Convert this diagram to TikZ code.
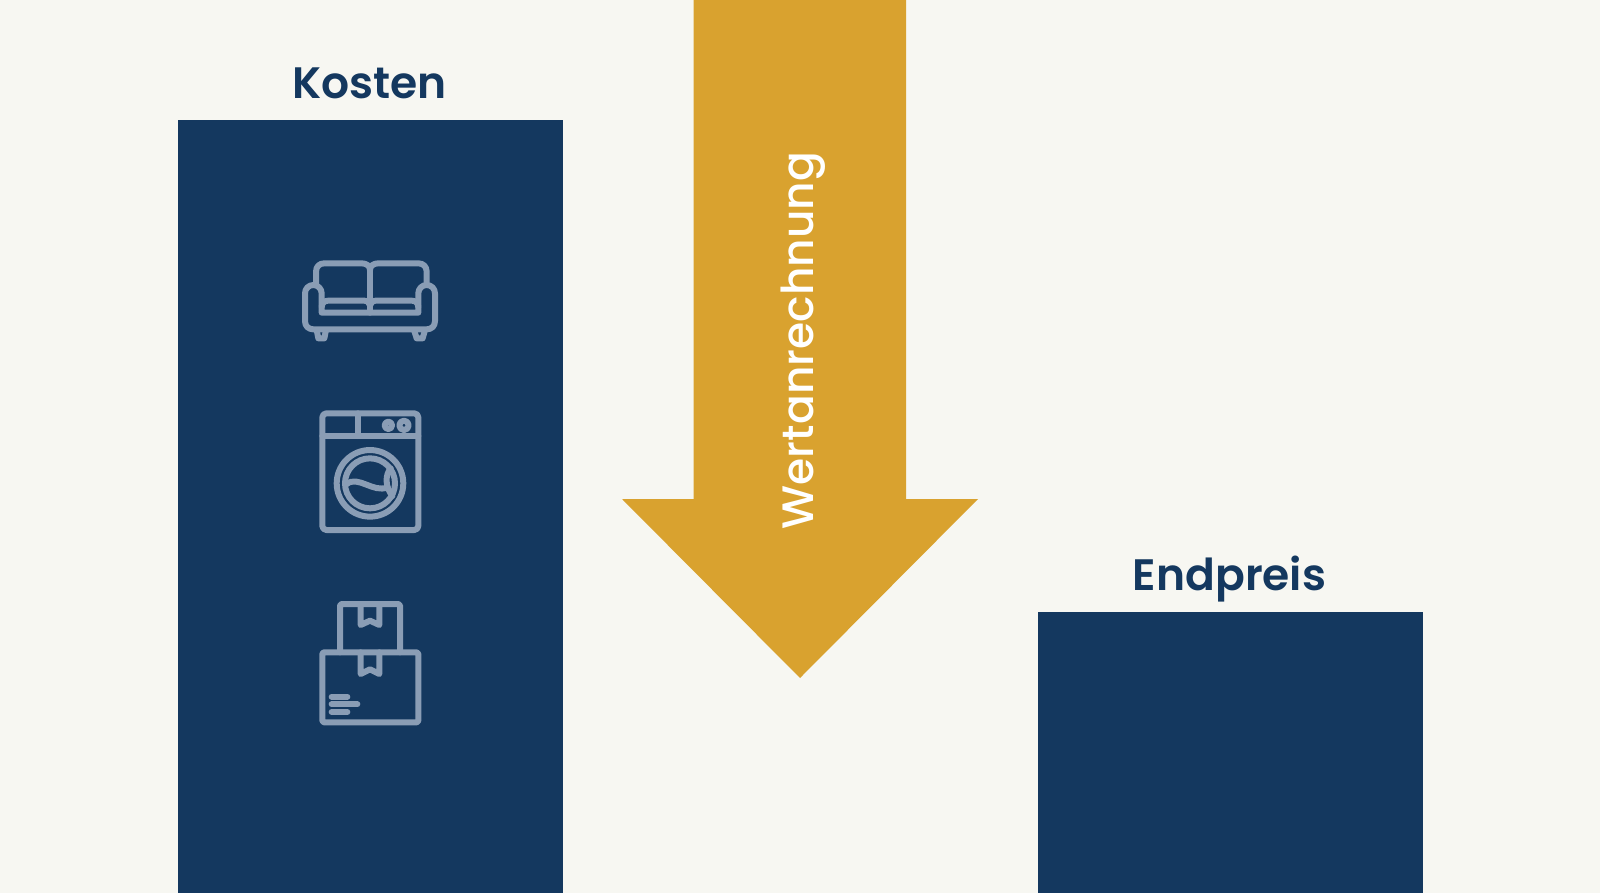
\documentclass[tikz,border=0pt]{standalone}
\usepackage{fontspec}
\setmainfont{Poppins}[BoldFont={Poppins SemiBold}]
\newfontfamily\popmed{Poppins Medium}
\definecolor{paper}{HTML}{F7F7F2}
\definecolor{navy}{HTML}{14385F}
\definecolor{gold}{HTML}{D9A22F}
\definecolor{iconline}{HTML}{8A9DB5}
\tikzset{
  bar/.style={fill=navy,draw=none},
  head/.style={text=navy,font=\bfseries\fontsize{44}{44}\selectfont,anchor=base,inner sep=0pt},
  icon/.style={draw=iconline,line width=6,line cap=round,line join=round},
}
\begin{document}
\begin{tikzpicture}[x=1pt,y=-1pt]
\useasboundingbox (0,0) rectangle (1600,893);
\fill[paper] (0,0) rectangle (1600,893);
\path[bar] (177.5,120.5) rectangle (562.5,893);
\path[bar] (1037.5,612) rectangle (1422.5,893);
\fill[gold] (693.5,0) -- (906,0) -- (906,499) -- (978,499) -- (800,678) -- (622,499) -- (693.5,499) -- cycle;
\node[head] (kosten) at (369.5,99) {Kosten};
\node[head] (endpreis) at (1229.5,590) {Endpreis};
\node[text=white,font=\popmed\fontsize{44}{44}\selectfont,anchor=base,rotate=90,inner sep=0pt] (wert) at (813,340.5) {Wertanrechnung};
% sofa
\begin{scope}[shift={(290,250)},x=0.33333pt,y=-0.33333pt,icon]
\draw (78,105) -- (78,65) .. controls (78,50) and (88,40) .. (103,40) -- (215,40) .. controls (230,40) and (240,48) .. (240,60) .. controls (240,48) and (250,40) .. (265,40) -- (385,40) .. controls (400,40) and (410,50) .. (410,65) -- (410,105);
\draw (240,60) -- (240,188);
\draw (95,188) -- (95,130) arc[start angle=0,end angle=-180,x radius=25,y radius=25] -- (45,213) .. controls (45,228) and (55,238) .. (70,238) -- (410,238) .. controls (425,238) and (435,228) .. (435,213) -- (435,130) arc[start angle=0,end angle=-180,x radius=25,y radius=25] -- (385,188) -- cycle;
\draw (95,170) .. controls (97,158) and (103,152) .. (115,152) -- (222,152) .. controls (232,152) and (238,158) .. (240,166) .. controls (242,158) and (248,152) .. (258,152) -- (365,152) .. controls (377,152) and (383,158) .. (385,170);
\draw (80,240) -- (85,265) -- (103,265) -- (108,240);
\draw (372,240) -- (380,265) -- (398,265) -- (405,240);
\end{scope}
% washer
\begin{scope}[shift={(300,400)},x=0.33333pt,y=-0.33333pt,icon]
\draw[rounded corners=4pt] (67,40) rectangle (355,390);
\draw (67,108) -- (355,108);
\draw (173,40) -- (173,108);
\draw (265,76) circle[radius=3.7pt];
\draw (312,76) circle[radius=4.7pt];
\draw (210,250) circle[radius=33.3pt];
\draw (210,250) circle[radius=25pt];
\draw (140,252) .. controls (175,225) and (220,280) .. (262,262);
\draw (272,205) .. controls (255,225) and (255,260) .. (277,288);
\end{scope}
% boxes
\begin{scope}[shift={(300,590)},x=0.33333pt,y=-0.33333pt,icon]
\draw[rounded corners=1.5pt] (120,187) -- (120,42) -- (300,42) -- (300,187);
\draw[rounded corners=1.5pt] (67,187) rectangle (355,397);
\draw (182,42) -- (182,105) -- (210,92) -- (238,105) -- (238,42);
\draw (182,187) -- (182,252) -- (210,238) -- (238,252) -- (238,187);
\draw (95,320) -- (142,320);
\draw (95,343) -- (172,343);
\draw (95,366) -- (142,366);
\end{scope}
\end{tikzpicture}
\end{document}
